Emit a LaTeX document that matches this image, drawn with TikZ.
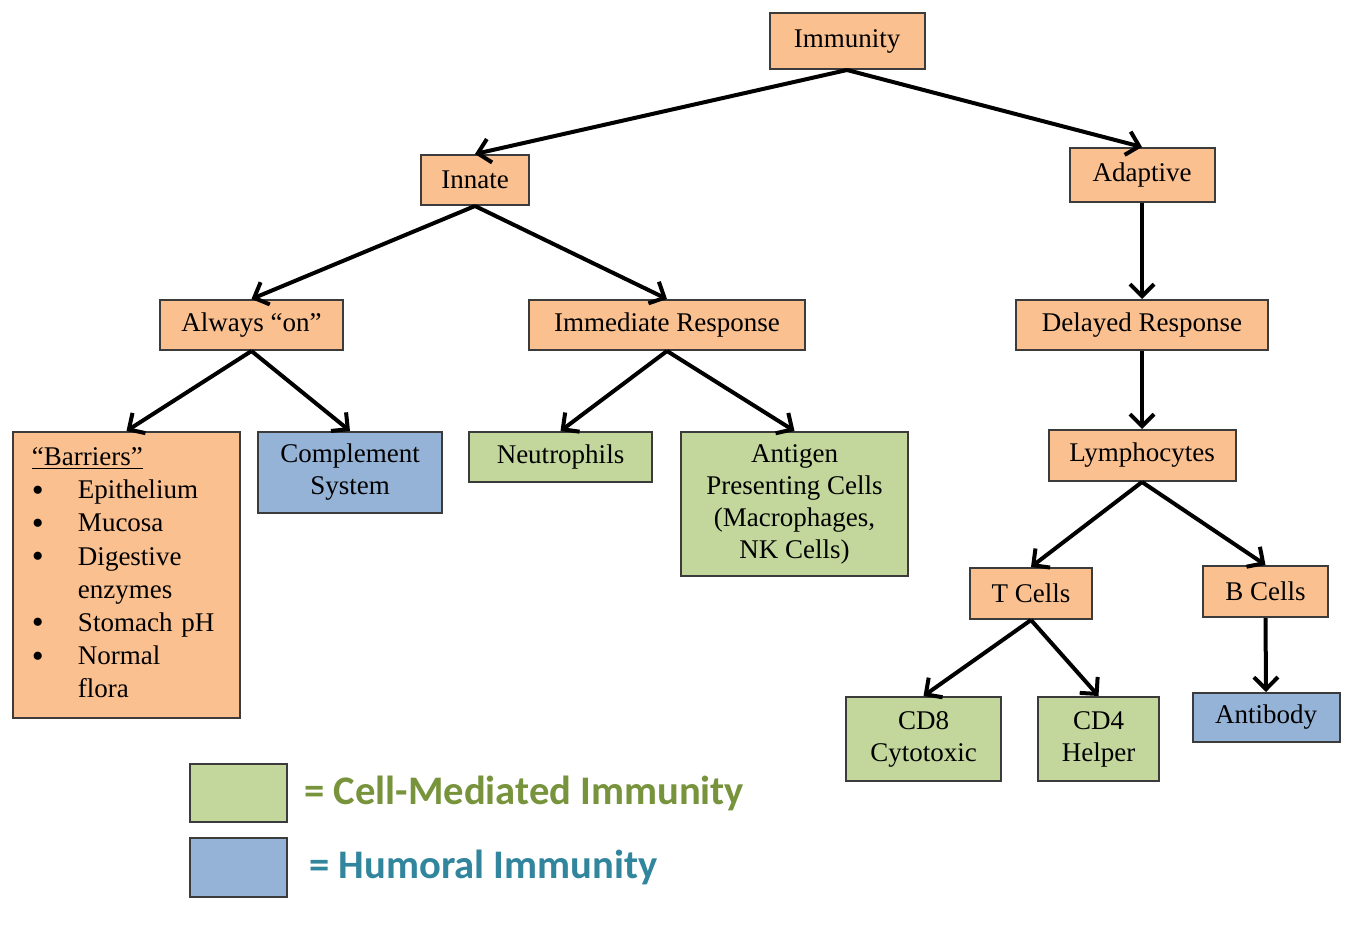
\documentclass[tikz,border=0pt]{standalone}
\usepackage{fontspec}
\setmainfont{Liberation Serif}
\newfontfamily\legendfont{Carlito}
\usetikzlibrary{arrows.meta, positioning}

\definecolor{boxorange}{HTML}{FAC090}
\definecolor{boxgreen}{HTML}{C3D69B}
\definecolor{boxblue}{HTML}{95B3D7}
\definecolor{boxline}{HTML}{3B3B3B}
\definecolor{legendgreen}{HTML}{77933C}
\definecolor{legendblue}{HTML}{31859C}

\newcommand{\bigdot}{\smash{\raisebox{-0.2ex}{\fontsize{17}{14}\selectfont\textbullet}}}

\begin{document}
\begin{tikzpicture}[x=0.5pt, y=-0.5pt,
    box/.style={draw=boxline, line width=1pt, align=center, inner sep=2pt,
        font=\fontsize{13.5}{16}\selectfont},
    orangebox/.style={box, fill=boxorange},
    greenbox/.style={box, fill=boxgreen},
    bluebox/.style={box, fill=boxblue},
    boxsize/.style 2 args={minimum width=#1*0.5pt, minimum height=#2*0.5pt},
    legendtext/.style={inner sep=0pt, font=\legendfont\bfseries\fontsize{20.3}{24}\selectfont},
    arr/.style={-{Straight Barb[length=6pt,width=12pt]}, line width=2pt}]
    \useasboundingbox (0,0) rectangle (1352,938);

    % Top levels
    \node[orangebox, boxsize={155}{56}] (imm) at (847,41) {Immunity};
    \node[orangebox, boxsize={108}{50}] (innate) at (475,180) {Innate};
    \node[orangebox, boxsize={145}{54}] (adaptive) at (1142,175) {Adaptive};

    % Innate branch
    \node[orangebox, boxsize={183}{50}] (always) at (251.5,325) {Always ``on''};
    \node[orangebox, boxsize={276}{50}] (immed) at (667,325) {Immediate Response};
    \node[orangebox, boxsize={227}{286}, text width=94.5pt, align=left] (barriers) at (126.5,575) {%
        \fontsize{13.5}{16.6}\selectfont
        \begin{tabular}{@{}p{23pt}@{}l@{}}
            \multicolumn{2}{@{}l@{}}{\underline{``Barriers''}}\\
            \bigdot & Epithelium\\
            \bigdot & Mucosa\\
            \bigdot & Digestive\\
                    & enzymes\\
            \bigdot & Stomach pH\\
            \bigdot & Normal\\
                    & flora
        \end{tabular}};
    \node[bluebox, boxsize={184}{81}] (compl) at (350,472.5) {Complement\\System};
    \node[greenbox, boxsize={183}{50}] (neutro) at (560.5,457) {Neutrophils};
    \node[greenbox, boxsize={227}{144}] (apc) at (794.5,504) {Antigen\\Presenting Cells\\(Macrophages,\\NK Cells)};

    % Adaptive branch
    \node[orangebox, boxsize={252}{50}] (delayed) at (1142,325) {Delayed Response};
    \node[orangebox, boxsize={187}{51}] (lympho) at (1142,455.5) {Lymphocytes};
    \node[orangebox, boxsize={122}{51}] (tcells) at (1031,593.5) {T Cells};
    \node[orangebox, boxsize={125}{51}] (bcells) at (1265.5,591.5) {B Cells};
    \node[greenbox, boxsize={155}{84}] (cd8) at (923.5,739) {CD8\\Cytotoxic};
    \node[greenbox, boxsize={121}{84}] (cd4) at (1098.5,739) {CD4\\Helper};
    \node[bluebox, boxsize={147}{49}] (antibody) at (1266,717.5) {Antibody};

    % Arrows
    \foreach \a/\b in {imm/innate, imm/adaptive, innate/always, innate/immed,
        always/barriers, always/compl, immed/neutro, immed/apc,
        adaptive/delayed, delayed/lympho, lympho/tcells, lympho/bcells,
        tcells/cd8, tcells/cd4, bcells/antibody} {
        \draw[arr] (\a.south) -- (\b.north);
    }

    % Legend
    \node[greenbox, boxsize={97}{58}] (leggreen) at (238.5,793) {};
    \node[bluebox, boxsize={97}{59}] (legblue) at (238.5,867.5) {};
    \node[legendtext, text=legendgreen, right=8pt of leggreen] (legcell) {= Cell-Mediated Immunity};
    \node[legendtext, text=legendblue, right=10.5pt of legblue] (leghum) {= Humoral Immunity};
\end{tikzpicture}
\end{document}
